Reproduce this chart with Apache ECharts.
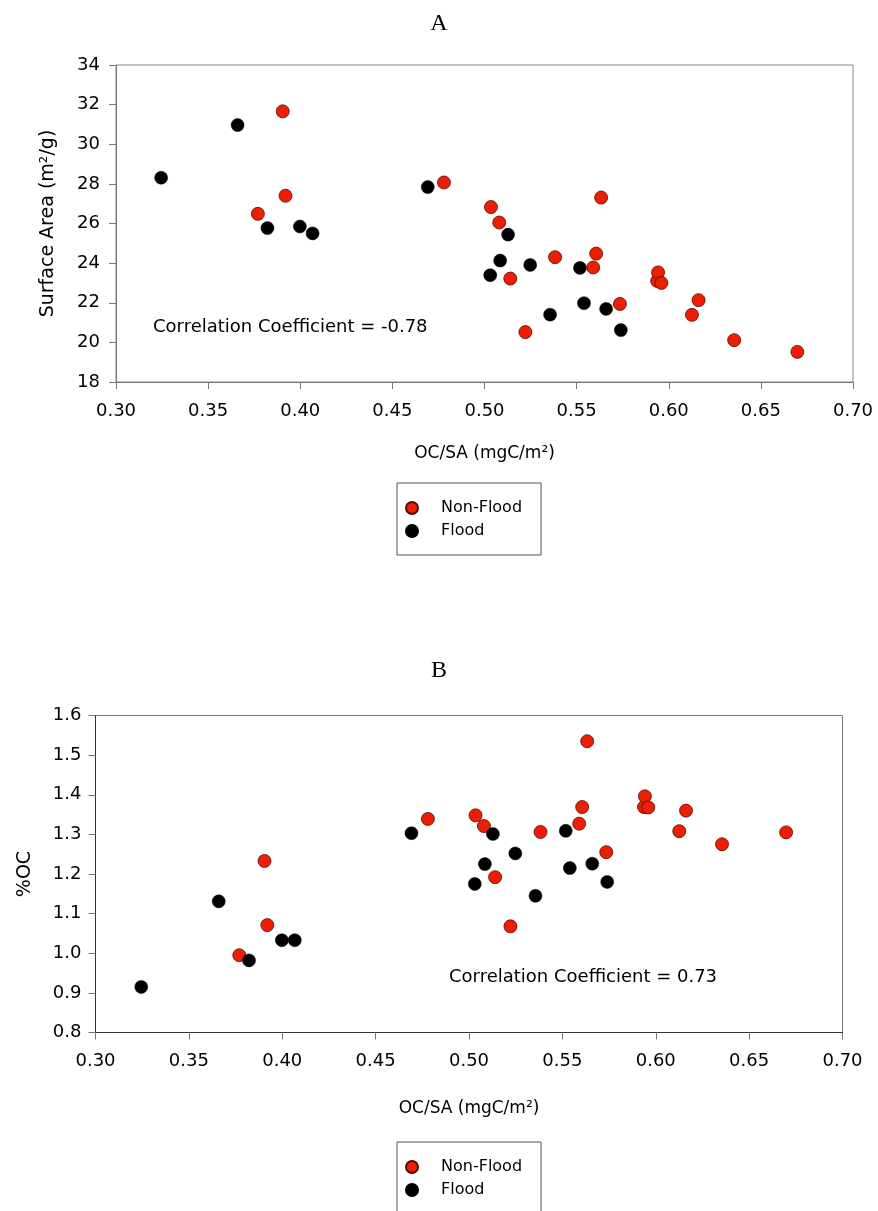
<!DOCTYPE html>
<html>
<head>
<meta charset="utf-8">
<script src="https://cdn.jsdelivr.net/npm/echarts@6/dist/echarts.min.js"></script>
<style>
html,body{margin:0;padding:0;background:#fff;}
#chart{width:878px;height:1211px;}
</style>
</head>
<body>
<div id="chart"></div>
<script>
// Non-Flood samples
const nonFloodOCSA = [0.377, 0.3905, 0.392, 0.478, 0.5035, 0.508, 0.514, 0.5222, 0.5383, 0.559, 0.5606, 0.5633, 0.5735, 0.5937, 0.5942, 0.596, 0.6126, 0.6162, 0.6355, 0.6698];
const nonFloodSA   = [26.49, 31.66, 27.40, 28.07, 26.83, 26.05, 23.22, 20.52, 24.30, 23.78, 24.48, 27.31, 21.94, 23.10, 23.53, 23.00, 21.39, 22.13, 20.11, 19.52];
const nonFloodOC   = [0.995, 1.233, 1.071, 1.339, 1.348, 1.321, 1.192, 1.068, 1.306, 1.327, 1.369, 1.535, 1.255, 1.369, 1.396, 1.368, 1.308, 1.360, 1.275, 1.305];
// Flood samples
const floodOCSA = [0.3245, 0.366, 0.3822, 0.3998, 0.4067, 0.4692, 0.5031, 0.5085, 0.5128, 0.5248, 0.5356, 0.5518, 0.554, 0.566, 0.574];
const floodSA   = [28.31, 30.97, 25.77, 25.85, 25.50, 27.84, 23.39, 24.13, 25.44, 23.91, 21.40, 23.76, 21.98, 21.69, 20.62];
const floodOC   = [0.915, 1.131, 0.982, 1.033, 1.033, 1.303, 1.175, 1.225, 1.301, 1.252, 1.145, 1.309, 1.215, 1.226, 1.180];

const seriesNames = ['Non-Flood', 'Flood'];
const corrTexts = ['Correlation Coefficient = -0.78', 'Correlation Coefficient = 0.73'];
const panelTitles = ['A', 'B'];

const zip = (a, b) => a.map((v, i) => [v, b[i]]);
const FONT = 'DejaVu Sans';
const redStyle = {color: '#EC1F05', borderColor: '#5a0a00', borderWidth: 0.8, opacity: 1};
const blackStyle = {color: '#000000', borderColor: '#000000', borderWidth: 0.5, opacity: 1};

function xAxisCfg(gridIndex, gap, lineColor) {
  return {
    gridIndex, type: 'value', min: 0.3, max: 0.7, interval: 0.05,
    name: 'OC/SA (mgC/m²)', nameLocation: 'middle', nameGap: gap,
    nameTextStyle: {fontFamily: FONT, fontSize: 17, color: '#000'},
    axisLine: {show: true, onZero: false, lineStyle: {color: lineColor, width: 1}},
    axisTick: {show: true, inside: false, length: 7, lineStyle: {color: '#777'}},
    axisLabel: {margin: 20, fontFamily: FONT, fontSize: 18, color: '#000', formatter: v => v.toFixed(2)},
    splitLine: {show: false}
  };
}
function yAxisCfg(gridIndex, min, max, interval, dec, name, gap, lineColor, margin) {
  return {
    gridIndex, type: 'value', min, max, interval,
    name, nameLocation: 'middle', nameGap: gap,
    nameTextStyle: {fontFamily: FONT, fontSize: 19, color: '#000'},
    axisLine: {show: true, onZero: false, lineStyle: {color: lineColor, width: 1}},
    axisTick: {show: true, inside: false, length: 7, lineStyle: {color: '#777'}},
    axisLabel: {margin, fontFamily: FONT, fontSize: 18, color: '#000', formatter: v => v.toFixed(dec)},
    splitLine: {show: false}
  };
}
function legendCfg(top) {
  return {
    left: 397, top, orient: 'horizontal', width: 136,
    data: seriesNames,
    itemWidth: 48, itemHeight: 12, itemGap: 7,
    padding: [17, 19, 16, 8],
    borderColor: '#555', borderWidth: 1,
    textStyle: {fontFamily: FONT, fontSize: 16, lineHeight: 16, color: '#000'},
    selectedMode: false
  };
}

const option = {
  animation: false,
  backgroundColor: '#fff',
  grid: [
    {left: 116, top: 65, width: 737, height: 317, show: true, borderColor: '#888', borderWidth: 1, backgroundColor: 'transparent'},
    {left: 95.5, top: 715.5, width: 747, height: 317, show: true, borderColor: '#777', borderWidth: 1, backgroundColor: 'transparent'}
  ],
  xAxis: [xAxisCfg(0, 63, '#777'), xAxisCfg(1, 68, '#333')],
  yAxis: [
    yAxisCfg(0, 18, 34, 2, 0, 'Surface Area (m²/g)', 58, '#777', 16),
    yAxisCfg(1, 0.8, 1.6, 0.1, 1, '%OC', 61, '#333', 14)
  ],
  legend: [legendCfg(483), legendCfg(1142)],
  graphic: [
    {type: 'text', left: 'center', top: 12, style: {text: panelTitles[0], font: '24px "Liberation Serif"', fill: '#000'}, x: 27},
    {type: 'text', left: 'center', top: 659, style: {text: panelTitles[1], font: '24px "Liberation Serif"', fill: '#000'}, x: 27},
    {type: 'text', left: 153, top: 318, style: {text: corrTexts[0], font: '18px "DejaVu Sans"', fill: '#000'}},
    {type: 'text', left: 449, top: 968, style: {text: corrTexts[1], font: '18px "DejaVu Sans"', fill: '#000'}}
  ],
  series: [
    {name: seriesNames[0], type: 'scatter', xAxisIndex: 0, yAxisIndex: 0, symbol: 'circle', symbolSize: 13, itemStyle: redStyle, data: zip(nonFloodOCSA, nonFloodSA), z: 3},
    {name: seriesNames[1], type: 'scatter', xAxisIndex: 0, yAxisIndex: 0, symbol: 'circle', symbolSize: 13, itemStyle: blackStyle, data: zip(floodOCSA, floodSA), z: 3},
    {name: seriesNames[0], type: 'scatter', xAxisIndex: 1, yAxisIndex: 1, symbol: 'circle', symbolSize: 13, itemStyle: redStyle, data: zip(nonFloodOCSA, nonFloodOC), z: 3},
    {name: seriesNames[1], type: 'scatter', xAxisIndex: 1, yAxisIndex: 1, symbol: 'circle', symbolSize: 13, itemStyle: blackStyle, data: zip(floodOCSA, floodOC), z: 3}
  ]
};

const chart = echarts.init(document.getElementById('chart'), null, {renderer: 'canvas'});
chart.setOption(option);
</script>
</body>
</html>
